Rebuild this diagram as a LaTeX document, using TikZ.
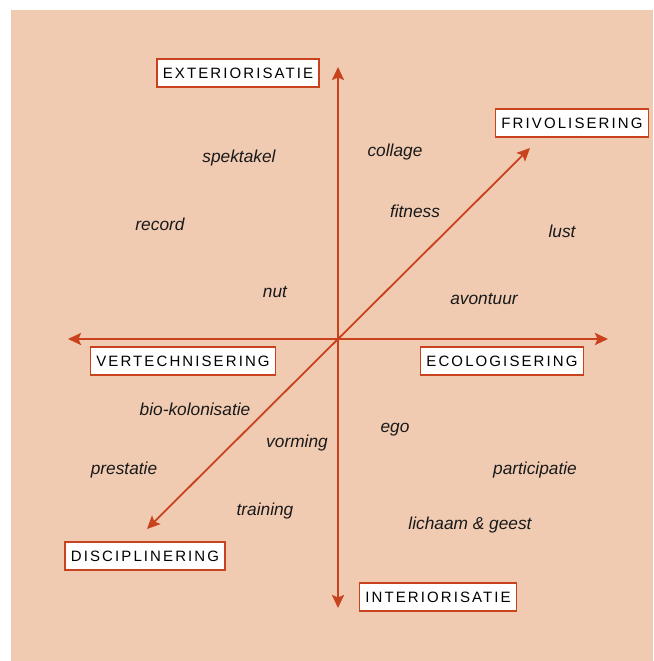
\documentclass[tikz,border=0pt]{standalone}
\usepackage{fontspec}
\setmainfont{Liberation Sans}
\newfontfamily\capsfont[LetterSpace=14]{Liberation Sans}
\usetikzlibrary{arrows.meta}
\definecolor{peach}{RGB}{240,203,178}
\definecolor{rust}{RGB}{200,66,30}
\begin{document}
\begin{tikzpicture}[x=1pt,y=-1pt]
    \tikzstyle{pole}=[draw=rust,line width=1.4pt,fill=white,inner xsep=6pt,
        minimum height=28pt,text depth=0pt,font=\capsfont\fontsize{15}{18}\selectfont]
    \tikzstyle{word}=[inner sep=0pt,yshift=-2pt,text=black!90,font=\itshape\fontsize{17.3}{20}\selectfont]
    \tikzstyle{axis}=[rust,line width=2.2pt,{Stealth[length=13pt,width=12pt,inset=2.5pt]}-{Stealth[length=13pt,width=12pt,inset=2.5pt]}]
    \useasboundingbox (0,0) rectangle (653,661);
    \fill[peach] (11,10) rectangle (653,661);
    % axis ends
    \coordinate (up) at (338,67);
    \coordinate (down) at (338,608);
    \coordinate (left) at (68,339);
    \coordinate (right) at (608,339);
    \coordinate (ne) at (530,148);
    \coordinate (sw) at (147,529);
    \draw[axis] (down)--(up);
    \draw[axis] (left)--(right);
    \draw[axis,line width=1.8pt] (sw)--(ne);
    % poles
    \draw node[pole](ext)at(238,73){EXTERIORISATIE}
          node[pole](frv)at(572,123){FRIVOLISERING}
          node[pole](vrt)at(183,361){VERTECHNISERING}
          node[pole](eco)at(502,361){ECOLOGISERING}
          node[pole](dsc)at(145,556){DISCIPLINERING}
          node[pole](int)at(438,597){INTERIORISATIE};
    % words
    \draw node[word](spk)at(239,156){spektakel}
          node[word](col)at(395,150){collage}
          node[word](fit)at(415,209){fitness}
          node[word](lst)at(562,229){lust}
          node[word](rec)at(160,222){record}
          node[word](nut)at(275,290){nut}
          node[word](avo)at(484,297){avontuur}
          node[word](bio)at(195,407){bio-kolonisatie}
          node[word](ego)at(395,428){ego}
          node[word](vor)at(297,441){vorming}
          node[word](pre)at(124,468){prestatie}
          node[word](par)at(535,468){participatie}
          node[word](trn)at(265,509){training}
          node[word](lic)at(470,523){lichaam \& geest};
\end{tikzpicture}
\end{document}
